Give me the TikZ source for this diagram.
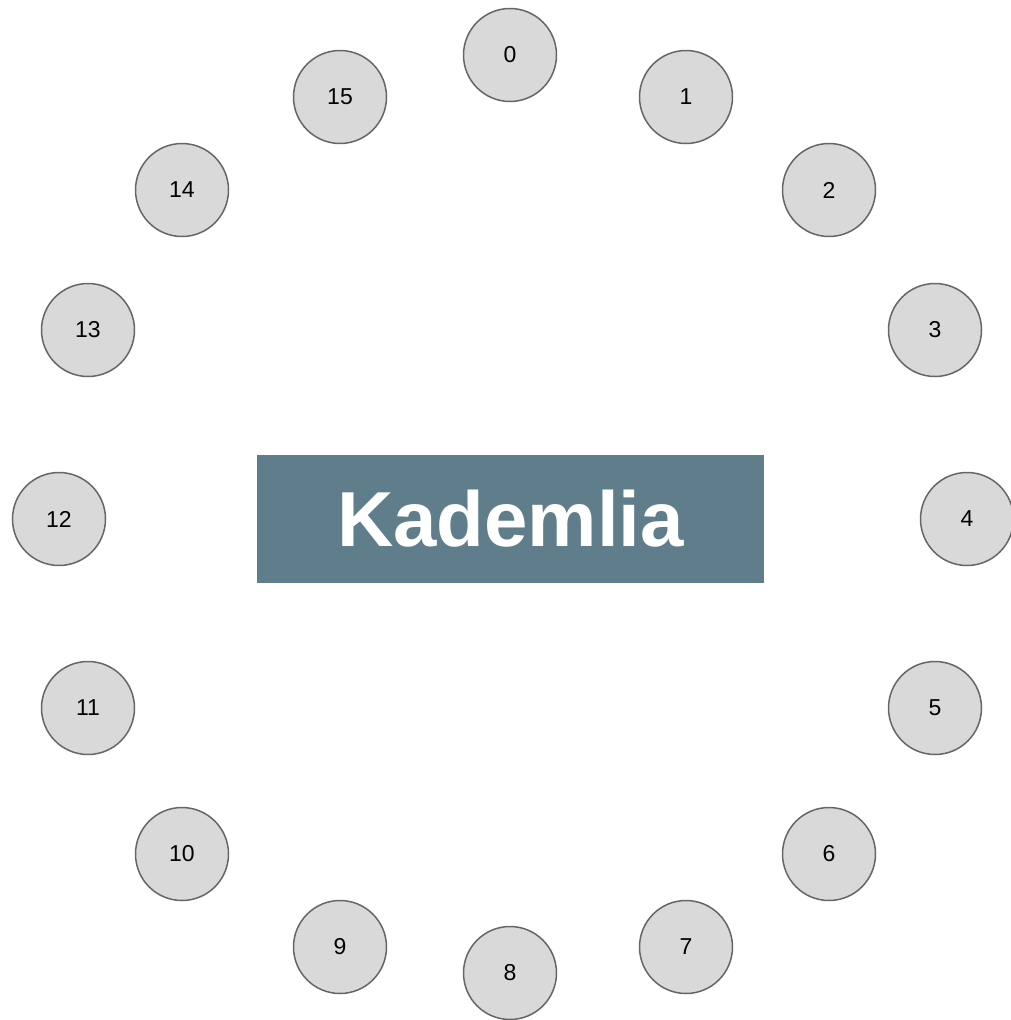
\documentclass[tikz,border=0pt]{standalone}
\usepackage{fontspec}
\setmainfont{Liberation Sans}
\definecolor{slate}{HTML}{607D8B}
\definecolor{peer}{HTML}{D9D9D9}
\definecolor{rim}{HTML}{666666}
\begin{document}
\begin{tikzpicture}[x=1pt,y=-1pt,
    peernode/.style={circle, draw=rim, fill=peer, line width=1.5pt, minimum size=93pt, inner sep=0pt, font=\fontsize{23}{25}\selectfont},
    titlebox/.style={fill=slate, text=white, minimum width=507pt, minimum height=128pt, inner sep=0pt, font=\fontsize{78}{88}\selectfont\bfseries}]
\useasboundingbox (0,0) rectangle (1011,1020);

\node[titlebox](title) at (510.5,519){Kademlia};

\foreach \i/\x/\y in {0/510/55, 1/686/97, 2/829/190, 3/935/330, 4/967/519, 5/935/708, 6/829/854, 7/686/947,
    8/510/973, 9/340/947, 10/182/854, 11/88/708, 12/59/519, 13/88/330, 14/182/190, 15/340/97}
{
    \node[peernode](n\i) at (\x,\y){\i};
}

\end{tikzpicture}
\end{document}
